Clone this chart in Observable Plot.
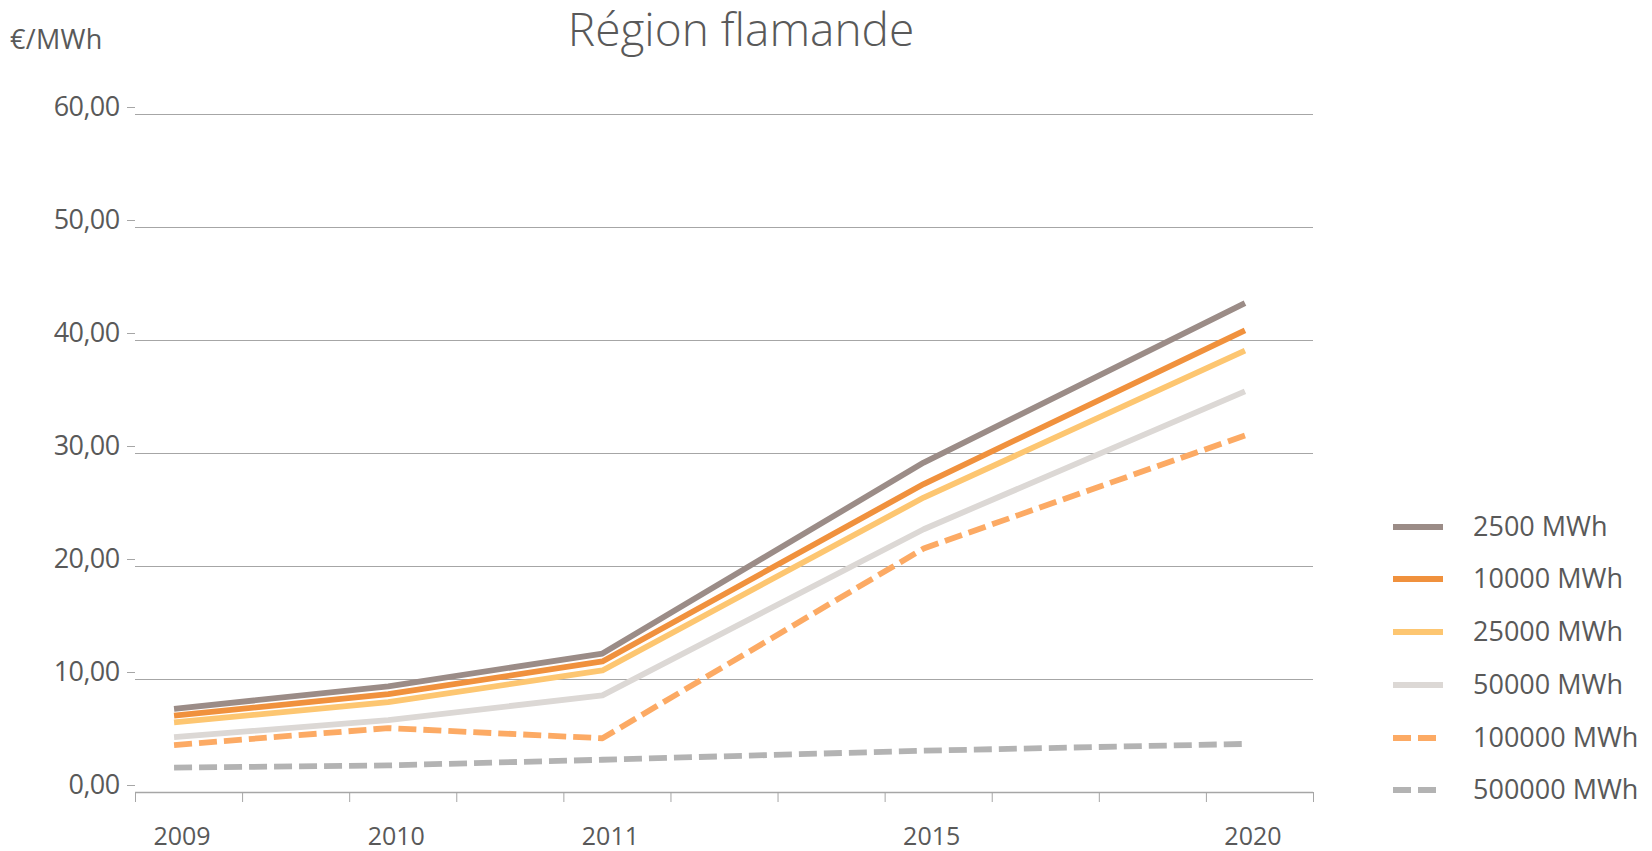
<!DOCTYPE html>
<html>
<head>
<meta charset="utf-8">
<script src="https://cdn.jsdelivr.net/npm/d3@7"></script>
<script src="https://cdn.jsdelivr.net/npm/@observablehq/plot@0.6"></script>
<style>
  body { margin: 0; background: #fff; }
  #wrap { position: relative; width: 1652px; height: 851px; font-family: "Open Sans", sans-serif; color: #595959; }
  #title { position: absolute; left: 0; width: 1482px; top: -2px; text-align: center; font-size: 46px; font-weight: 300; line-height: 60px; }
  #unit { position: absolute; left: 10px; top: 21px; font-size: 27px; line-height: 36px; letter-spacing: 0.3px; }
  #legend { position: absolute; left: 1393px; top: 0; }
  .row { position: absolute; left: 0; white-space: nowrap; font-size: 27px; line-height: 30px; }
  .row svg { position: absolute; left: 0; top: 10px; }
  .row span { position: absolute; left: 80px; top: 0; }
  .ylab text { letter-spacing: -0.6px; }
</style>
</head>
<body>
<div id="wrap">
  <div id="title">Région flamande</div>
  <div id="unit">€/MWh</div>
  <div id="legend"></div>
</div>
<script>
// ---- data ----
const years = ["2009", "2010", "2011", "2015", "2020"];
const seriesNames = ["2500 MWh", "10000 MWh", "25000 MWh", "50000 MWh", "100000 MWh", "500000 MWh"];
const v2500   = [7.4, 9.4, 12.3, 29.2, 43.3];
const v10000  = [6.8, 8.7, 11.6, 27.3, 40.9];
const v25000  = [6.2, 8.0, 10.8, 26.1, 39.1];
const v50000  = [4.9, 6.4, 8.6, 23.3, 35.5];
const v100000 = [4.2, 5.7, 4.8, 21.6, 31.6];
const v500000 = [2.2, 2.4, 2.9, 3.7, 4.3];
const yTicks = [0, 10, 20, 30, 40, 50, 60];

// ---- styling ----
const colors = ["#9b8c87", "#f0913d", "#fdc671", "#dcd8d5", "#fcaa64", "#b3b3b3"];
const dashes = [null, null, null, null, "18,7", "18,7"];
const values = [v2500, v10000, v25000, v50000, v100000, v500000];
// category slots of the x axis (11 slots), each year sits in its slot
const slotOf = [0.36, 2.36, 4.36, 7.36, 10.36];

const rows = seriesNames.map((s, k) => years.map((yr, i) => ({series: s, year: yr, pos: slotOf[i], value: values[k][i]})));

const fmt = d => d3.format(".2f")(d).replace(".", ",");
const yearAt = new Map(slotOf.map((p, i) => [p, years[i]]));

const plot = Plot.plot({
  width: 1652,
  height: 851,
  marginTop: 114,
  marginBottom: 59,
  marginLeft: 135,
  marginRight: 339,
  style: {fontFamily: "'Open Sans', sans-serif", fontSize: "25px", color: "#595959", background: "white", overflow: "visible"},
  x: {domain: [0, 11], axis: null},
  y: {domain: [0, 60], axis: null},
  marks: [
    Plot.gridY(yTicks, {stroke: "#a6a6a6", strokeOpacity: 1, strokeWidth: 1.2}),
    Plot.axisY(yTicks, {tickSize: 8, tickPadding: 8, tickFormat: fmt, stroke: "#a6a6a6", fill: "#595959", fontSize: 27, dy: -7, label: null, className: "ylab"}),
    Plot.ruleY([0], {stroke: "#a6a6a6", strokeWidth: 1.5}),
    Plot.axisX(d3.range(0, 12), {tickSize: 10, tickFormat: () => "", stroke: "#a6a6a6", label: null}),
    Plot.axisX(slotOf, {tickSize: 0, tickPadding: 35, tickFormat: d => yearAt.get(d), fill: "#595959", fontSize: 25, dx: 8, label: null}),
    ...rows.map((r, k) => Plot.line(r, {
      x: "pos", y: "value", stroke: colors[k], strokeWidth: 5.8,
      strokeDasharray: dashes[k] || undefined, strokeLinecap: "butt", strokeLinejoin: "round"
    }))
  ]
});
document.getElementById("wrap").prepend(plot);
plot.style.position = "absolute";
plot.style.left = "0";
plot.style.top = "0";
["title", "unit", "legend"].forEach(id => document.getElementById(id).style.zIndex = 2);

// ---- legend ----
const legendY = [527, 579, 632, 685, 738, 790];
const leg = d3.select("#legend");
seriesNames.forEach((s, k) => {
  const row = leg.append("div").attr("class", "row").style("top", (legendY[k] - 16) + "px");
  const svg = row.append("svg").attr("width", 52).attr("height", 12);
  svg.append("line").attr("x1", 0).attr("x2", 50).attr("y1", 6).attr("y2", 6)
    .attr("stroke", colors[k]).attr("stroke-width", 5.8)
    .attr("stroke-dasharray", dashes[k]);
  row.append("span").text(s);
});
</script>
</body>
</html>
